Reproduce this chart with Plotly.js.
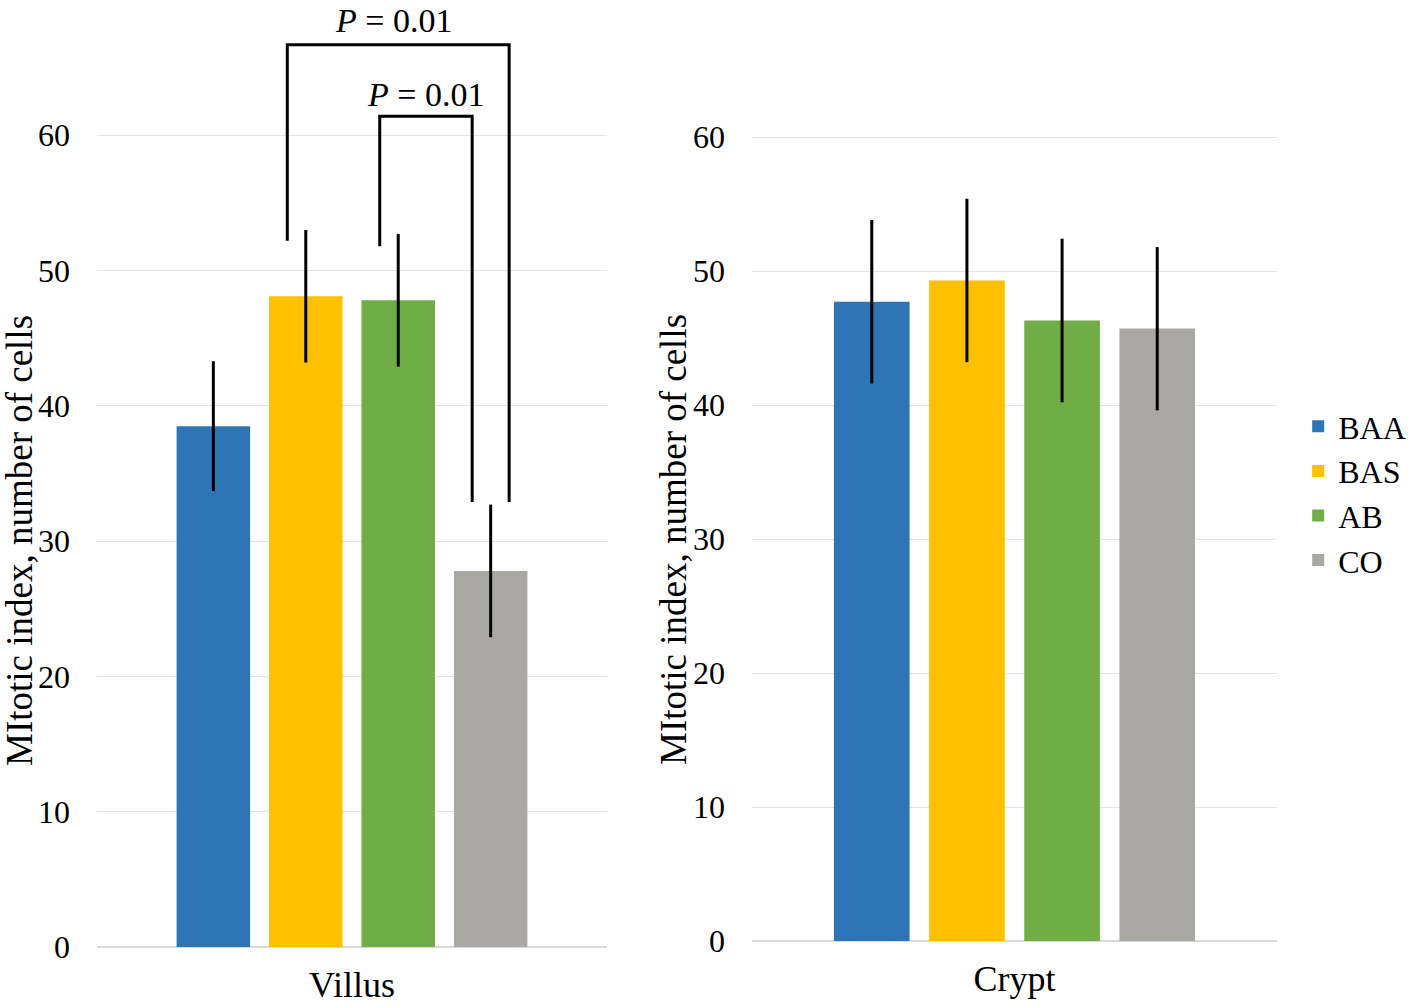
<!DOCTYPE html>
<html>
<head>
<meta charset="utf-8">
<script src="https://cdn.plot.ly/plotly-3.0.1.min.js"></script>
<style>html,body{margin:0;padding:0;background:#fff;}#chart{width:1418px;height:1007px;}</style>
</head>
<body>
<div id="chart"></div>
<script>
// ---- data ----
const groups = ["BAA", "BAS", "AB", "CO"];
const colors = ["#2E75B6", "#FFC000", "#70AD47", "#A9A8A5"];
const villusMean = [38.5, 48.1, 47.8, 27.8];
const villusErr = [4.8, 4.9, 4.9, 4.9];
const cryptMean = [47.7, 49.3, 46.3, 45.7];
const cryptErr = [6.1, 6.1, 6.1, 6.1];
const yTicks = [0, 10, 20, 30, 40, 50, 60];
const yTitle = "MItotic index, number of cells";
const pLabels = ["<i>P</i> = 0.01", "<i>P</i> = 0.01"];

const FONT = "Liberation Serif, Times New Roman, serif";
const BARGAP = 0.275, GROUPGAP = 0.205;

const traces = [];
groups.forEach((g, i) => {
  traces.push({
    type: "bar", name: g, x: ["Villus"], y: [villusMean[i]],
    xaxis: "x", yaxis: "y", legendgroup: g, showlegend: true,
    marker: {color: colors[i]},
    error_y: {type: "data", array: [villusErr[i]], visible: true, color: "#000", thickness: 3, width: 0}
  });
});
groups.forEach((g, i) => {
  traces.push({
    type: "bar", name: g, x: ["Crypt"], y: [cryptMean[i]],
    xaxis: "x2", yaxis: "y2", legendgroup: g, showlegend: false,
    marker: {color: colors[i]},
    error_y: {type: "data", array: [cryptErr[i]], visible: true, color: "#000", thickness: 3, width: 0}
  });
});

// bar centre positions on the category axis (single category at 0)
const slot = (1 - BARGAP) / groups.length;
const center = i => -0.5 + BARGAP / 2 + slot * (i + 0.5);
const off = 0.2 * slot;

const line = {color: "#000", width: 3};
const bracket = (x0, x1, yl, yr, ytop) => ({
  type: "path", xref: "x", yref: "y",
  path: `M ${x0} ${yl} L ${x0} ${ytop} L ${x1} ${ytop} L ${x1} ${yr}`,
  line: line
});

const shapes = [
  bracket(center(1) - off, center(3) + off, 52.2, 32.9, 66.7),
  bracket(center(2) - off, center(3) - off, 51.8, 32.9, 61.4)
];
const annotations = [
  {xref: "x", yref: "y", x: (center(1) - off + center(3) + off) / 2 - 0.01, y: 70, yanchor: "top", text: pLabels[0],
   showarrow: false, font: {family: FONT, size: 34, color: "#000"}},
  {xref: "x", yref: "y", x: (center(2) - off + center(3) - off) / 2, y: 63.0, text: pLabels[1],
   showarrow: false, font: {family: FONT, size: 34, color: "#000"}},
  {xref: "paper", yref: "paper", x: 19 / 1418, y: 1 - 541 / 1007, xanchor: "center", yanchor: "middle",
   text: yTitle, textangle: -90, showarrow: false, font: {family: FONT, size: 37, color: "#000"}},
  {xref: "paper", yref: "paper", x: 673 / 1418, y: 1 - 540 / 1007, xanchor: "center", yanchor: "middle",
   text: yTitle, textangle: -90, showarrow: false, font: {family: FONT, size: 37, color: "#000"}}
];

const yaxisBase = {
  tickvals: yTicks, ticktext: yTicks.map(String),
  showgrid: true, gridcolor: "#e4e4e4", gridwidth: 1,
  zeroline: true, zerolinecolor: "#d9d9d9", zerolinewidth: 1.5,
  showline: false, ticks: "", ticklabelstandoff: 26,
  tickfont: {family: FONT, size: 32, color: "#000"}
};
const xaxisBase = {
  type: "category", range: [-0.5, 0.5], showgrid: false, zeroline: false, showline: false,
  ticks: "", tickfont: {family: FONT, size: 36, color: "#000"}, ticklabelstandoff: 13
};

const layout = {
  width: 1418, height: 1007,
  margin: {l: 0, r: 0, t: 0, b: 0},
  paper_bgcolor: "#fff", plot_bgcolor: "#fff",
  barmode: "group", bargap: BARGAP, bargroupgap: GROUPGAP,
  showlegend: true,
  legend: {x: 0.9155, y: 1 - 399 / 1007, xanchor: "left", yanchor: "top", font: {family: FONT, size: 32, color: "#000"},
           itemwidth: 30, tracegroupgap: 0, bgcolor: "rgba(0,0,0,0)"},
  xaxis: Object.assign({}, xaxisBase, {domain: [97 / 1418, 607 / 1418], anchor: "y"}),
  yaxis: Object.assign({}, yaxisBase, {domain: [1 - 947 / 1007, 1], range: [0, 70], anchor: "x"}),
  xaxis2: Object.assign({}, xaxisBase, {domain: [752 / 1418, 1277 / 1418], anchor: "y2"}),
  yaxis2: Object.assign({}, yaxisBase, {domain: [1 - 941 / 1007, 1 - 123.6 / 1007], range: [0, 61], anchor: "x2"}),
  shapes: shapes,
  annotations: annotations
};

Plotly.newPlot("chart", traces, layout, {displayModeBar: false, staticPlot: true});
</script>
</body>
</html>
